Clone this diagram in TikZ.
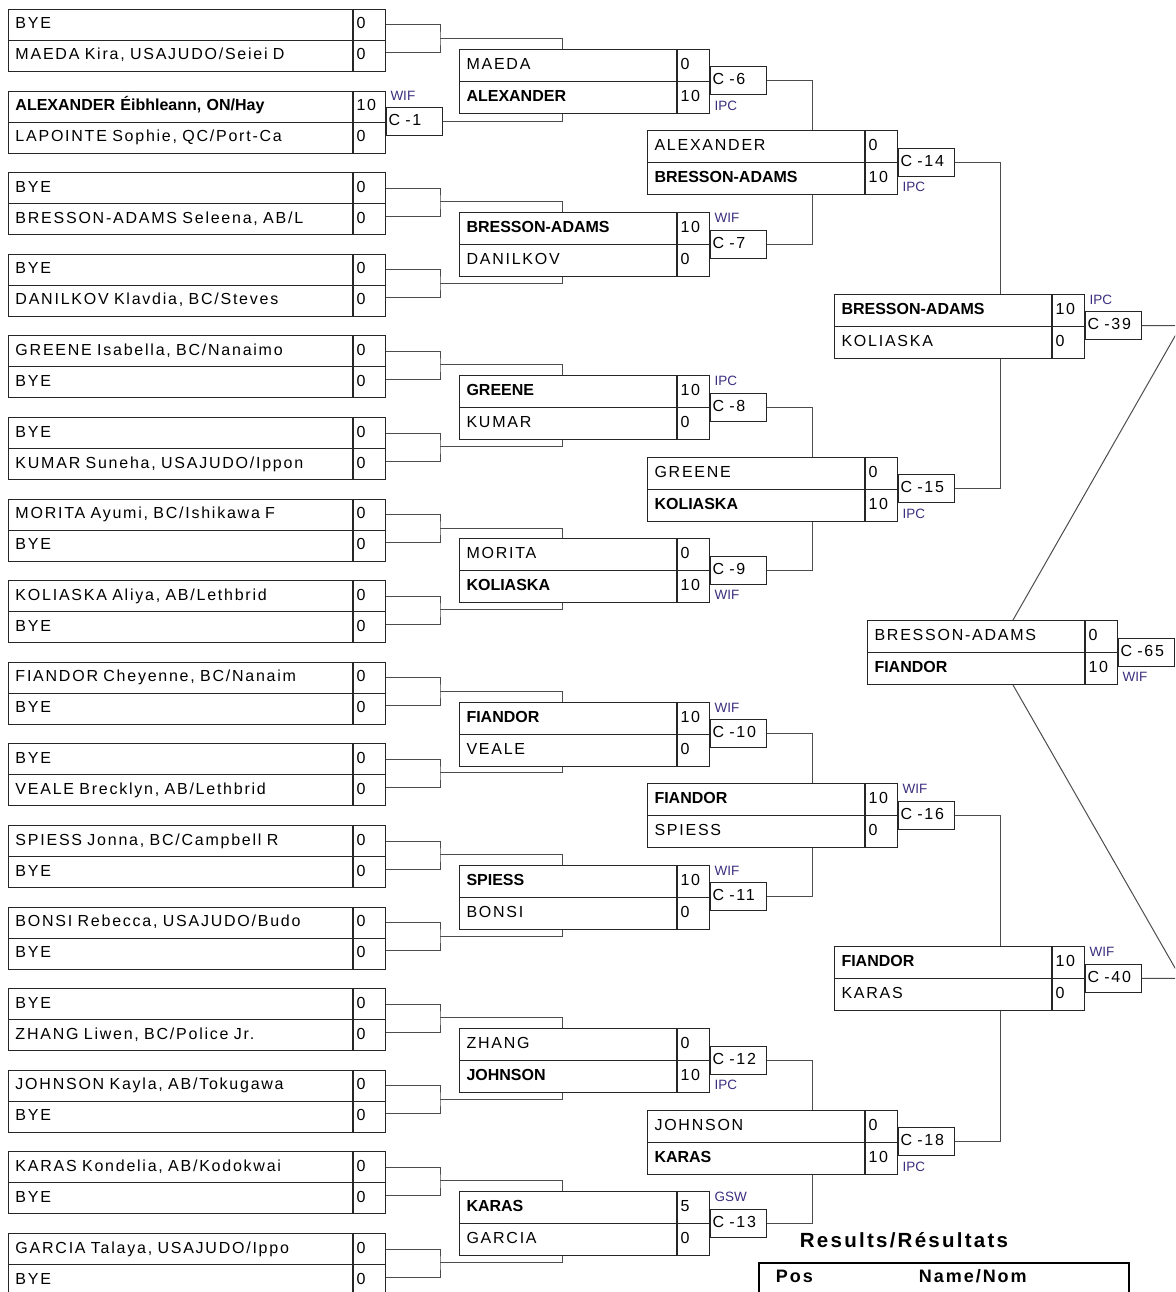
\documentclass[tikz,border=0pt]{standalone}
\usepackage{fontspec}
\setmainfont{Liberation Sans}
\newfontfamily\spc{Liberation Sans}[LetterSpace=11]
\newcommand\winner{\normalfont\bfseries}
\definecolor{labelcol}{RGB}{60,45,125}

\begin{document}
\begin{tikzpicture}[
  x=1pt, y=-1pt, line width=1pt,
  every node/.style={text height=11pt, text depth=3pt},
  namecell/.style={draw=black!85, anchor=west, minimum height=32pt, inner xsep=7pt, inner ysep=0pt,
    align=left, font=\spc\fontsize{16}{18}\selectfont},
  scorecell/.style={draw=black!85, anchor=west, minimum height=32pt, inner xsep=3pt, inner ysep=0pt,
    text width=26pt, align=left, font=\spc\fontsize{16}{18}\selectfont},
  matchbox/.style={draw=black!85, anchor=west, minimum height=28pt, inner xsep=2pt, inner ysep=0pt,
    text width=52pt, align=left, font=\spc\fontsize{16}{18}\selectfont},
  wtype/.style={text=labelcol, inner sep=0pt, anchor=base west, font=\fontsize{13.5}{15}\selectfont},
  wta/.style={wtype, at={([xshift=4pt,yshift=7pt]#1.north west)}},
  wtb/.style={wtype, at={([xshift=4pt,yshift=-15pt]#1.south west)}},
  link/.style={draw=black!70},
  head/.style={anchor=west, font=\spc\bfseries\fontsize{18}{20}\selectfont}
]
  \useasboundingbox (0,0) rectangle (1175,1292);
  \clip (0,0) rectangle (1175,1292);

  % first round
  \foreach \pa/\sa/\pb/\sb [count=\i from 0] in {
      BYE/0/{MAEDA Kira, USAJUDO/Seiei D}/0,
      {\winner ALEXANDER Éibhleann, ON/Hay}/10/{LAPOINTE Sophie, QC/Port-Ca}/0,
      BYE/0/{BRESSON-ADAMS Seleena, AB/L}/0,
      BYE/0/{DANILKOV Klavdia, BC/Steves}/0,
      {GREENE Isabella, BC/Nanaimo}/0/BYE/0,
      BYE/0/{KUMAR Suneha, USAJUDO/Ippon}/0,
      {MORITA Ayumi, BC/Ishikawa F}/0/BYE/0,
      {KOLIASKA Aliya, AB/Lethbrid}/0/BYE/0,
      {FIANDOR Cheyenne, BC/Nanaim}/0/BYE/0,
      BYE/0/{VEALE Brecklyn, AB/Lethbrid}/0,
      {SPIESS Jonna, BC/Campbell R}/0/BYE/0,
      {BONSI Rebecca, USAJUDO/Budo}/0/BYE/0,
      BYE/0/{ZHANG Liwen, BC/Police Jr.}/0,
      {JOHNSON Kayla, AB/Tokugawa}/0/BYE/0,
      {KARAS Kondelia, AB/Kodokwai}/0/BYE/0,
      {GARCIA Talaya, USAJUDO/Ippo}/0/BYE/0}
  {
    \pgfmathsetmacro\yc{40.5+81.6*\i}
    \node[namecell, text width=330pt, minimum height=31pt] (ft\i) at (8,\yc-15.5) {\mbox{\pa}};
    \node[scorecell, minimum height=31pt] (fts\i) at (ft\i.east) {\sa};
    \node[namecell, text width=330pt, minimum height=31pt] (fb\i) at (8,\yc+15.5) {\mbox{\pb}};
    \node[scorecell, minimum height=31pt] (fbs\i) at (fb\i.east) {\sb};
  }

  % byes
  \foreach \i in {0,2,3,4,5,6,7,8,9,10,11,12,13,14,15} {
    \pgfmathsetmacro\yc{40.5+81.6*\i}
    \coordinate (k\i) at (440,\yc-2);
    \draw[link] (fts\i.east) -| (k\i) |- ([yshift=3pt]fbs\i.east);
  }
  \node[matchbox] (m1) at ([yshift=1pt]fts1.south east) {C -1};
  \node[wta=m1] (w1) {WIF};
  \coordinate (k1) at (m1.east);

  % later rounds
  \foreach \xa/\yc/\pa/\sa/\pb/\sb/\n/\wt/\pos in {
      459/81.3/MAEDA/0/{\winner ALEXANDER}/10/6/IPC/b,
      459/244.5/{\winner BRESSON-ADAMS}/10/DANILKOV/0/7/WIF/a,
      459/407.7/{\winner GREENE}/10/KUMAR/0/8/IPC/a,
      459/570.9/MORITA/0/{\winner KOLIASKA}/10/9/WIF/b,
      459/734.1/{\winner FIANDOR}/10/VEALE/0/10/WIF/a,
      459/897.3/{\winner SPIESS}/10/BONSI/0/11/WIF/a,
      459/1060.5/ZHANG/0/{\winner JOHNSON}/10/12/IPC/b,
      459/1223.7/{\winner KARAS}/5/GARCIA/0/13/GSW/a,
      647/162.9/ALEXANDER/0/{\winner BRESSON-ADAMS}/10/14/IPC/b,
      647/489.3/GREENE/0/{\winner KOLIASKA}/10/15/IPC/b,
      647/815.7/{\winner FIANDOR}/10/SPIESS/0/16/WIF/a,
      647/1142.1/JOHNSON/0/{\winner KARAS}/10/18/IPC/b,
      834/326.1/{\winner BRESSON-ADAMS}/10/KOLIASKA/0/39/IPC/a,
      834/978.9/{\winner FIANDOR}/10/KARAS/0/40/WIF/a,
      867/652.5/BRESSON-ADAMS/0/{\winner FIANDOR}/10/65/WIF/b}
  {
    \node[namecell, text width=203pt] (t\n) at (\xa,\yc-16) {\pa};
    \node[scorecell] (ts\n) at (t\n.east) {\sa};
    \node[namecell, text width=203pt] (b\n) at (\xa,\yc+16) {\pb};
    \node[scorecell] (bs\n) at (b\n.east) {\sb};
    \node[matchbox] (m\n) at ([yshift=1pt]ts\n.south east) {C -\n};
    \node[wt\pos=m\n] (w\n) {\wt};
  }

  % connectors
  \foreach \j in {0,...,7} {
    \pgfmathtruncatemacro\n{6+\j}
    \pgfmathtruncatemacro\u{2*\j}
    \pgfmathtruncatemacro\v{2*\j+1}
    \draw[link] (k\u) -| ([xshift=103pt]t\n.north west);
    \draw[link] (k\v) -| ([xshift=103pt]b\n.south west);
  }
  \foreach \u/\v/\n in {6/7/14, 8/9/15, 10/11/16, 12/13/18} {
    \draw[link] (m\u.east) -| ([xshift=165pt]t\n.north west);
    \draw[link] (m\v.east) -| ([xshift=165pt]b\n.south west);
  }
  \foreach \u/\v/\n in {14/15/39, 16/18/40} {
    \draw[link] (m\u.east) -| ([xshift=166pt]t\n.north west);
    \draw[link] (m\v.east) -| ([xshift=166pt]b\n.south west);
  }
  \coordinate (j39) at ([xshift=39pt]m39.east);
  \coordinate (j40) at ([xshift=39pt]m40.east);
  \draw[link] (m39.east) -- (j39) -- ([xshift=146pt]t65.north west);
  \draw[link] (m40.east) -- (j40) -- ([xshift=146pt]b65.south west);

  % results
  \node[font=\spc\bfseries\fontsize{20.5}{22}\selectfont] (restitle) at (904,1243) {Results/Résultats};
  \node[draw, line width=2pt, anchor=north west, minimum width=370pt, minimum height=60pt] (restab) at (758,1262) {};
  \node[head] (pos) at (772,1278) {Pos};
  \node[head] (nom) at (915,1278) {Name/Nom};
\end{tikzpicture}
\end{document}
